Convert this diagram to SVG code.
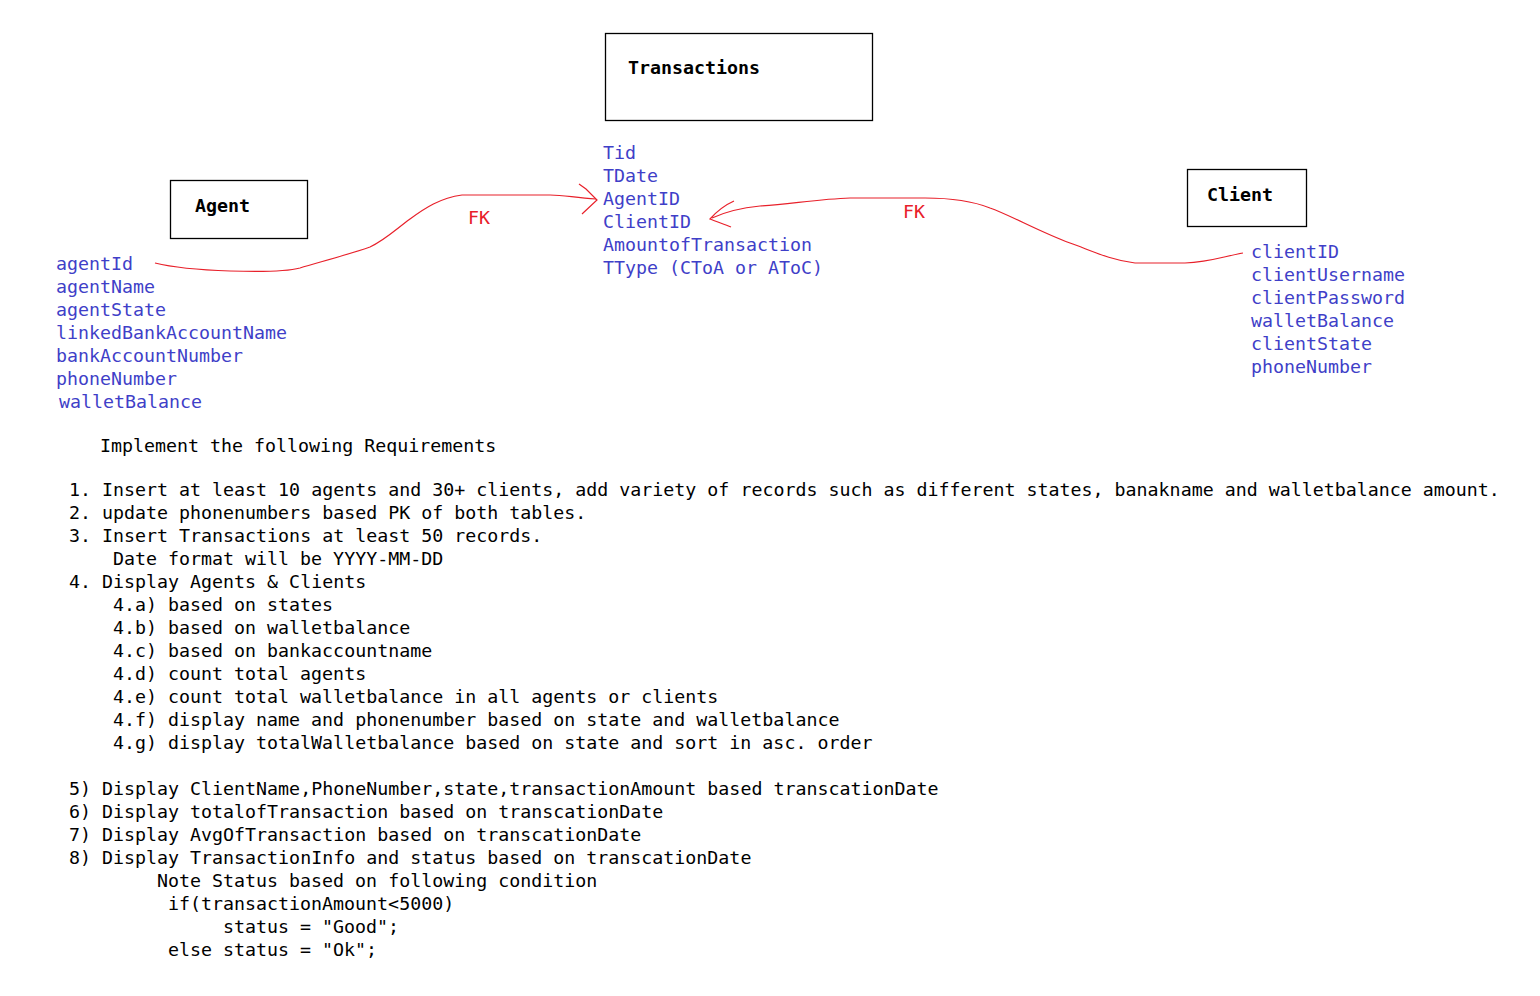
<svg xmlns="http://www.w3.org/2000/svg" width="1540" height="996" viewBox="0 0 1540 996">
<style>
text{font-family:"DejaVu Sans Mono","Liberation Mono",monospace;font-size:18.3px}
.t{font-weight:bold;fill:#000}
.f{fill:#3f3fc8}
.b{fill:#000}
.fk{fill:#e8202a}
.box{fill:#fff;stroke:#000;stroke-width:1.3}
.c{fill:none;stroke:#e8202a;stroke-width:1.2}
</style>
<rect width="1540" height="996" fill="#fff"/>
<g id="transactions">
<rect class="box" x="605.5" y="33.5" width="267" height="87"/>
<text class="t" x="628" y="74">Transactions</text>
<text class="f" x="603" y="159">Tid</text>
<text class="f" x="603" y="182">TDate</text>
<text class="f" x="603" y="205">AgentID</text>
<text class="f" x="603" y="228">ClientID</text>
<text class="f" x="603" y="251">AmountofTransaction</text>
<text class="f" x="603" y="274">TType (CToA or AToC)</text>
</g>
<g id="agent">
<rect class="box" x="170.5" y="180.5" width="137" height="58"/>
<text class="t" x="195" y="212">Agent</text>
<text class="f" x="56" y="270">agentId</text>
<text class="f" x="56" y="293">agentName</text>
<text class="f" x="56" y="316">agentState</text>
<text class="f" x="56" y="339">linkedBankAccountName</text>
<text class="f" x="56" y="362">bankAccountNumber</text>
<text class="f" x="56" y="385">phoneNumber</text>
<text class="f" x="59" y="408">walletBalance</text>
</g>
<g id="client">
<rect class="box" x="1187.5" y="169.5" width="119" height="57"/>
<text class="t" x="1207" y="201">Client</text>
<text class="f" x="1251" y="258">clientID</text>
<text class="f" x="1251" y="281">clientUsername</text>
<text class="f" x="1251" y="304">clientPassword</text>
<text class="f" x="1251" y="327">walletBalance</text>
<text class="f" x="1251" y="350">clientState</text>
<text class="f" x="1251" y="373">phoneNumber</text>
</g>
<g id="connectors">
<path class="c" d="M155,263 C175,268 200,270 230,271 C260,272 285,272 300,268 C320,262 350,254 370,247 C385,240 395,230 410,219 C425,208 440,198 462,195 L550,195 C565,195 575,198 596,199"/>
<path class="c" d="M579,184 L586,189 L597,200 L582,214"/>
<text class="fk" x="468" y="224">FK</text>
<path class="c" d="M1243,253 C1225,256 1210,262 1185,263 L1135,263 C1110,260 1090,250 1070,243 C1040,232 1010,215 990,208 C970,200 950,198 925,198 L850,198 C820,199 790,204 760,206 C740,208 725,212 712,218"/>
<path class="c" d="M734,201 C725,205 718,210 710,219 C717,222 724,224 731,227"/>
<text class="fk" x="903" y="218">FK</text>
</g>
<g id="requirements">
<text class="b" x="100" y="452">Implement the following Requirements</text>
<text class="b" x="69" y="496">1. Insert at least 10 agents and 30+ clients, add variety of records such as different states, banakname and walletbalance amount.</text>
<text class="b" x="69" y="519">2. update phonenumbers based PK of both tables.</text>
<text class="b" x="69" y="542">3. Insert Transactions at least 50 records.</text>
<text class="b" x="113" y="565">Date format will be YYYY-MM-DD</text>
<text class="b" x="69" y="588">4. Display Agents &amp; Clients</text>
<text class="b" x="113" y="611">4.a) based on states</text>
<text class="b" x="113" y="634">4.b) based on walletbalance</text>
<text class="b" x="113" y="657">4.c) based on bankaccountname</text>
<text class="b" x="113" y="680">4.d) count total agents</text>
<text class="b" x="113" y="703">4.e) count total walletbalance in all agents or clients</text>
<text class="b" x="113" y="726">4.f) display name and phonenumber based on state and walletbalance</text>
<text class="b" x="113" y="749">4.g) display totalWalletbalance based on state and sort in asc. order</text>
<text class="b" x="69" y="795">5) Display ClientName,PhoneNumber,state,transactionAmount based transcationDate</text>
<text class="b" x="69" y="818">6) Display totalofTransaction based on transcationDate</text>
<text class="b" x="69" y="841">7) Display AvgOfTransaction based on transcationDate</text>
<text class="b" x="69" y="864">8) Display TransactionInfo and status based on transcationDate</text>
<text class="b" x="157" y="887">Note Status based on following condition</text>
<text class="b" x="168" y="910">if(transactionAmount&lt;5000)</text>
<text class="b" x="223" y="933">status = "Good";</text>
<text class="b" x="168" y="956">else status = "Ok";</text>
</g>
</svg>
